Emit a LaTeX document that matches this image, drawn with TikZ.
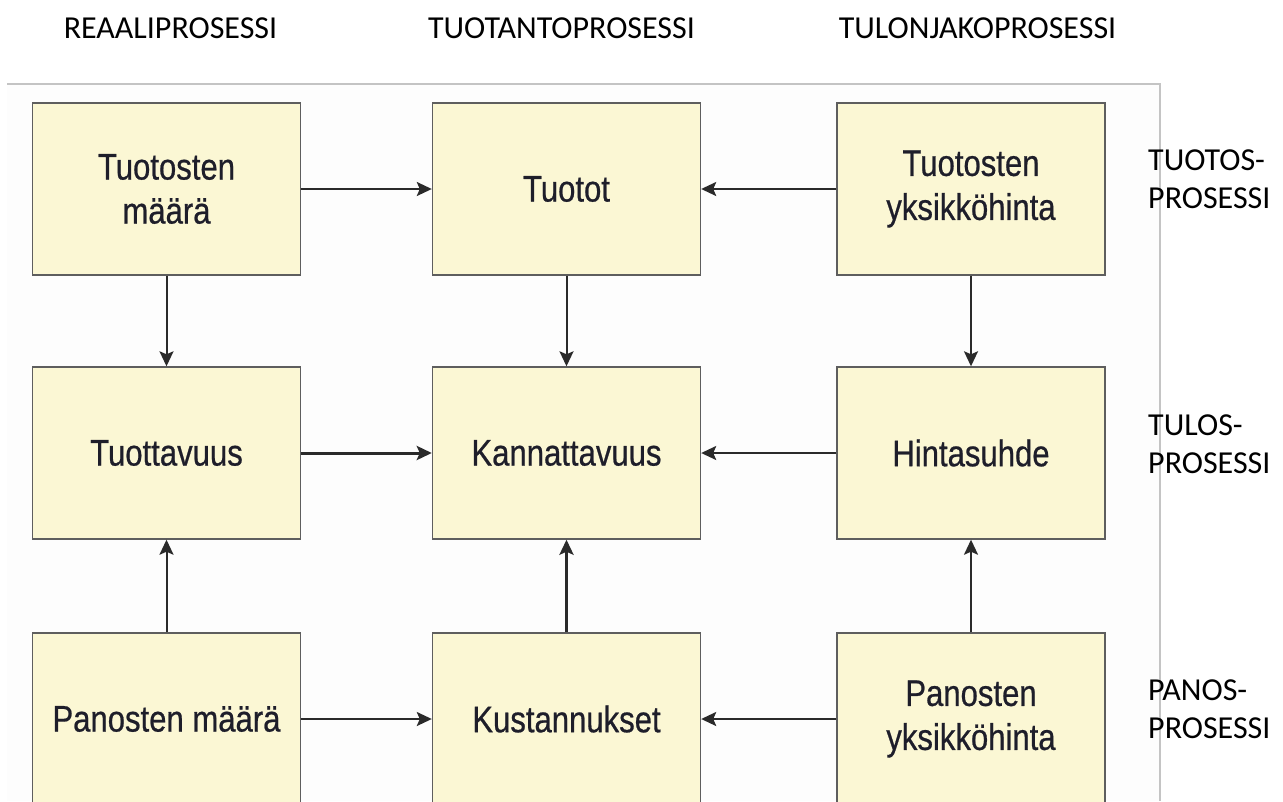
\documentclass[tikz,border=0pt]{standalone}
\usepackage{fontspec}
\setmainfont{Carlito}
\newfontfamily\boxfont[FakeStretch=0.84, FakeBold=0.6]{Liberation Sans}
\usetikzlibrary{arrows.meta}

\definecolor{boxfill}{HTML}{FBF7D4}
\definecolor{boxedge}{HTML}{5E5E5E}
\definecolor{boxtext}{HTML}{1E1E2A}
\definecolor{arrowcol}{HTML}{2A2A2A}
\definecolor{panelbg}{HTML}{FDFDFD}
\definecolor{panelline}{HTML}{C4C4C4}

\tikzset{
  procbox/.style={draw=boxedge, line width=1.4pt, fill=boxfill,
    minimum width=268pt, minimum height=172pt, inner sep=0pt,
    align=center, text=boxtext,
    font=\boxfont\fontsize{37}{44}\selectfont},
  heading/.style={anchor=base, inner sep=0pt, text=black,
    font=\fontsize{32}{38}\selectfont},
  sidelabel/.style={anchor=base west, inner sep=0pt, text=black,
    font=\fontsize{32}{38}\selectfont},
  flow/.style={draw=arrowcol, line width=2pt,
    -{Stealth[length=15pt, width=14pt, inset=3pt]}},
  boldflow/.style={flow, line width=3pt}
}

\begin{document}
\begin{tikzpicture}[x=1pt, y=-1pt]
  \useasboundingbox (0,0) rectangle (1283,801);
  \clip (0,0) rectangle (1283,801);

  % light panel behind the grid of boxes
  \fill[panelbg] (7,84) rectangle (1160,801);
  \draw[panelline, line width=1.2pt] (7,84) -- (1160,84) -- (1160,801);

  % column headings
  \node[heading] (hReal) at (170.5,38) {REAALIPROSESSI};
  \node[heading] (hTuot) at (561.5,38) {TUOTANTOPROSESSI};
  \node[heading] (hTulo) at (977.5,38) {TULONJAKOPROSESSI};

  % row labels on the right
  \node[sidelabel] (sTuotA) at (1148,170) {TUOTOS-};
  \node[sidelabel] (sTuotB) at (1148,208) {PROSESSI};
  \node[sidelabel] (sTulA)  at (1148,435) {TULOS-};
  \node[sidelabel] (sTulB)  at (1148,473) {PROSESSI};
  \node[sidelabel] (sPanA)  at (1148,700) {PANOS-};
  \node[sidelabel] (sPanB)  at (1148,738) {PROSESSI};

  % boxes
  \node[procbox] (tm)  at (166.5,189) {Tuotosten\\määrä};
  \node[procbox] (tt)  at (566.5,189) {Tuotot};
  \node[procbox] (ty)  at (971,189)   {Tuotosten\\yksikköhinta};

  \node[procbox] (tv)  at (166.5,453) {Tuottavuus};
  \node[procbox] (ka)  at (566.5,453) {Kannattavuus};
  \node[procbox] (hs)  at (971,453)   {Hintasuhde};

  \node[procbox] (pm)  at (166.5,719) {Panosten määrä};
  \node[procbox] (ku)  at (566.5,719) {Kustannukset};
  \node[procbox] (py)  at (971,719)   {Panosten\\yksikköhinta};

  % horizontal connectors
  \draw[flow] (tm.east) -- (tt.west);
  \draw[flow] (ty.west) -- (tt.east);
  \draw[boldflow] (tv.east) -- (ka.west);
  \draw[flow] (hs.west) -- (ka.east);
  \draw[flow] (pm.east) -- (ku.west);
  \draw[flow] (py.west) -- (ku.east);

  % vertical connectors
  \draw[flow] (tm.south) -- (tv.north);
  \draw[flow] (tt.south) -- (ka.north);
  \draw[flow] (ty.south) -- (hs.north);
  \draw[flow] (pm.north) -- (tv.south);
  \draw[boldflow] (ku.north) -- (ka.south);
  \draw[flow] (py.north) -- (hs.south);
\end{tikzpicture}
\end{document}
